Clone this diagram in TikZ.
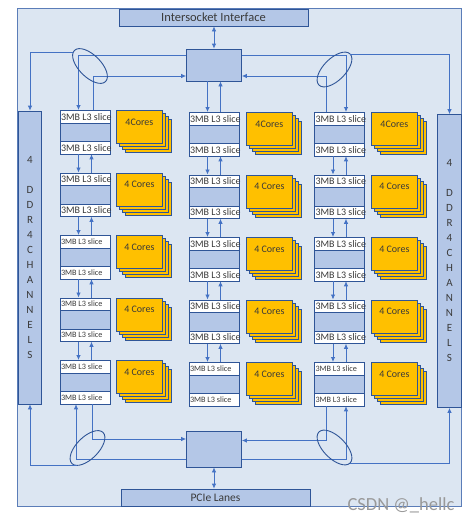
\documentclass[tikz,border=0pt]{standalone}
\usepackage{fontspec}
\setmainfont{Carlito}
\usetikzlibrary{shapes.geometric,arrows.meta}

\definecolor{panel}{HTML}{DCE6F2}
\definecolor{frame}{HTML}{5B7DB8}
\definecolor{boxfill}{HTML}{B4C7E7}
\definecolor{boxline}{HTML}{2F5597}
\definecolor{wire}{HTML}{4472C4}
\definecolor{core}{HTML}{FFC000}
\definecolor{ink}{HTML}{3A3A3A}

\tikzset{
  hub/.style={draw=boxline, fill=boxfill, line width=0.8pt, inner sep=0pt},
  bar/.style={hub, text=ink},
  ddr/.style={hub, minimum width=23.5pt, minimum height=293pt, align=center,
    font=\fontsize{11}{15}\selectfont, text=ink},
  slicestack/.style={draw=boxline, fill=boxfill, line width=0.8pt,
    minimum width=50pt, minimum height=43.5pt, inner sep=0pt},
  slicerow/.style={draw=boxline, fill=white, line width=0.8pt,
    minimum width=50pt, minimum height=12.5pt, inner xsep=1pt, inner ysep=0pt,
    text=ink},
  card/.style={draw=boxline, fill=core, line width=0.8pt, minimum width=46pt,
    minimum height=33pt, inner sep=0pt},
  ring/.style={ellipse, draw=boxline, line width=0.9pt, minimum width=44pt,
    minimum height=22pt, inner sep=0pt},
  wire/.style={draw=wire, line width=0.8pt},
  tip/.style={-{Latex[length=5pt,width=4.5pt]}},
  twotip/.style={{Latex[length=5pt,width=4.5pt]}-{Latex[length=5pt,width=4.5pt]}}
}
\newcommand{\slicetext}{\makebox[48pt][l]{3MB L3 slice}}

\begin{document}
\begin{tikzpicture}[x=1pt,y=-1pt]
\useasboundingbox (0,0) rectangle (471,525);
%Outer box
\draw[draw=frame, fill=panel, line width=0.9pt] (17,8) rectangle (461,506);

%Memory and IO bars
\node[bar, minimum width=189pt, minimum height=17pt,
  font=\fontsize{12.5}{14}\selectfont] (sock) at (213.5,17.5) {Intersocket Interface};
\node[bar, minimum width=189pt, minimum height=17pt,
  font=\fontsize{11.5}{13}\selectfont] (pcie) at (215.5,497.5) {PCIe Lanes};
\node[ddr] (ddrL) at (30,257.5) {4\\[15pt]D\\D\\R\\4\\C\\H\\A\\N\\N\\E\\L\\S};
\node[ddr] (ddrR) at (449.5,261) {4\\[15pt]D\\D\\R\\4\\C\\H\\A\\N\\N\\E\\L\\S};

%Hubs
\node[hub, minimum width=55pt, minimum height=32pt] (hubT) at (214,65) {};
\node[hub, minimum width=55pt, minimum height=36pt] (hubB) at (214,449) {};
\draw[wire,twotip] (hubT.north) -- (hubT.north |- sock.south);
\draw[wire,twotip] (hubB.south) -- (hubB.south |- pcie.north);

%Slices and cores
\foreach \c/\x/\xc/\dy in {1/85/116/0, 2/214/246/2, 3/339.5/371/2}{
  \foreach \r in {1,...,5}{
    \pgfmathsetmacro\y{110+62.5*(\r-1)+\dy}
    \def\sfont{\fontsize{10}{11}\selectfont}
    \ifnum\r=5 \def\sfont{\fontsize{8.2}{9}\selectfont}\fi
    \ifnum\c=1 \ifnum\r>2 \def\sfont{\fontsize{8.2}{9}\selectfont}\fi\fi
    \node[slicestack, anchor=north] (s\c\r) at (\x,\y) {};
    \node[slicerow, anchor=north, font=\sfont] (s\c\r-top) at (s\c\r.north) {\slicetext};
    \node[slicerow, anchor=south, font=\sfont] (s\c\r-bot) at (s\c\r.south) {\slicetext};
    \foreach \k in {3,2,1}
      \node[card, anchor=north west] (k\c\r-\k) at (\xc+3*\k,\y+3*\k) {};
    \ifnum\r=1 \def\lbl{4Cores}\else \def\lbl{4 Cores}\fi
    \node[card, anchor=north west, text=ink, font=\fontsize{10}{11}\selectfont,
      text height=6pt, text depth=9pt] (k\c\r) at (\xc,\y) {\lbl};
  }
}

%Links between slices
\foreach \c in {1,2,3}{
  \foreach \r [evaluate=\r as \n using int(\r+1)] in {1,...,4}{
    \draw[wire,tip] ([xshift=-6.5pt]s\c\r.south) -- ([xshift=-6.5pt]s\c\n.north);
    \draw[wire,tip] ([xshift=6.5pt]s\c\n.north) -- ([xshift=6.5pt]s\c\r.south);
  }
}

%Top hub links
\draw[wire,tip] ([yshift=10pt]hubT.west) -| ([xshift=-6.5pt]s11.north);
\draw[wire,tip] ([xshift=8pt]s11.north) |- ([yshift=-11pt]hubT.west);
\draw[wire,tip] ([xshift=-6.5pt]hubT.south) -- ([xshift=-6.5pt]s21.north);
\draw[wire,tip] ([xshift=6.5pt]s21.north) -- ([xshift=6.5pt]hubT.south);
\draw[wire,tip] ([yshift=10pt]hubT.east) -| ([xshift=6.5pt]s31.north);
\draw[wire,tip] ([xshift=-13pt]s31.north) |- ([yshift=-11pt]hubT.east);

%Bottom hub links
\draw[wire,tip] ([xshift=7pt]s15.south) |- ([yshift=10pt]hubB.west);
\draw[wire,tip] ([yshift=-10pt]hubB.west) -| ([xshift=-9pt]s15.south);
\draw[wire,tip] ([xshift=-13pt]s35.south) |- ([yshift=8.5pt]hubB.east);
\draw[wire,tip] ([yshift=-10pt]hubB.east) -| ([xshift=6.5pt]s35.south);

%Rings
\node[ring, rotate=-45] (eTL) at (90,66) {};
\node[ring, rotate=45] (eTR) at (334.5,69.5) {};
\node[ring, rotate=45] (eBL) at (87.5,448) {};
\node[ring, rotate=-45] (eBR) at (334.5,447.5) {};

%Links to memory
\coordinate (eTLout) at (73.4,52);
\coordinate (eTRout) at (350.4,54.5);
\coordinate (eBLout) at (77,465.4);
\coordinate (eBRout) at (349.8,463.3);
\draw[wire,tip] (eTLout) -| (ddrL.north);
\draw[wire,tip] (eTRout) -| (ddrR.north);
\draw[wire,tip] (eBLout) -| (ddrL.south);
\draw[wire,tip] (eBRout) -| (ddrR.south);

%Watermark
\node[text=black!40, font=\fontsize{18.5}{20}\selectfont] (mark) at (401,505) {CSDN @\_hellc};
\end{tikzpicture}
\end{document}
